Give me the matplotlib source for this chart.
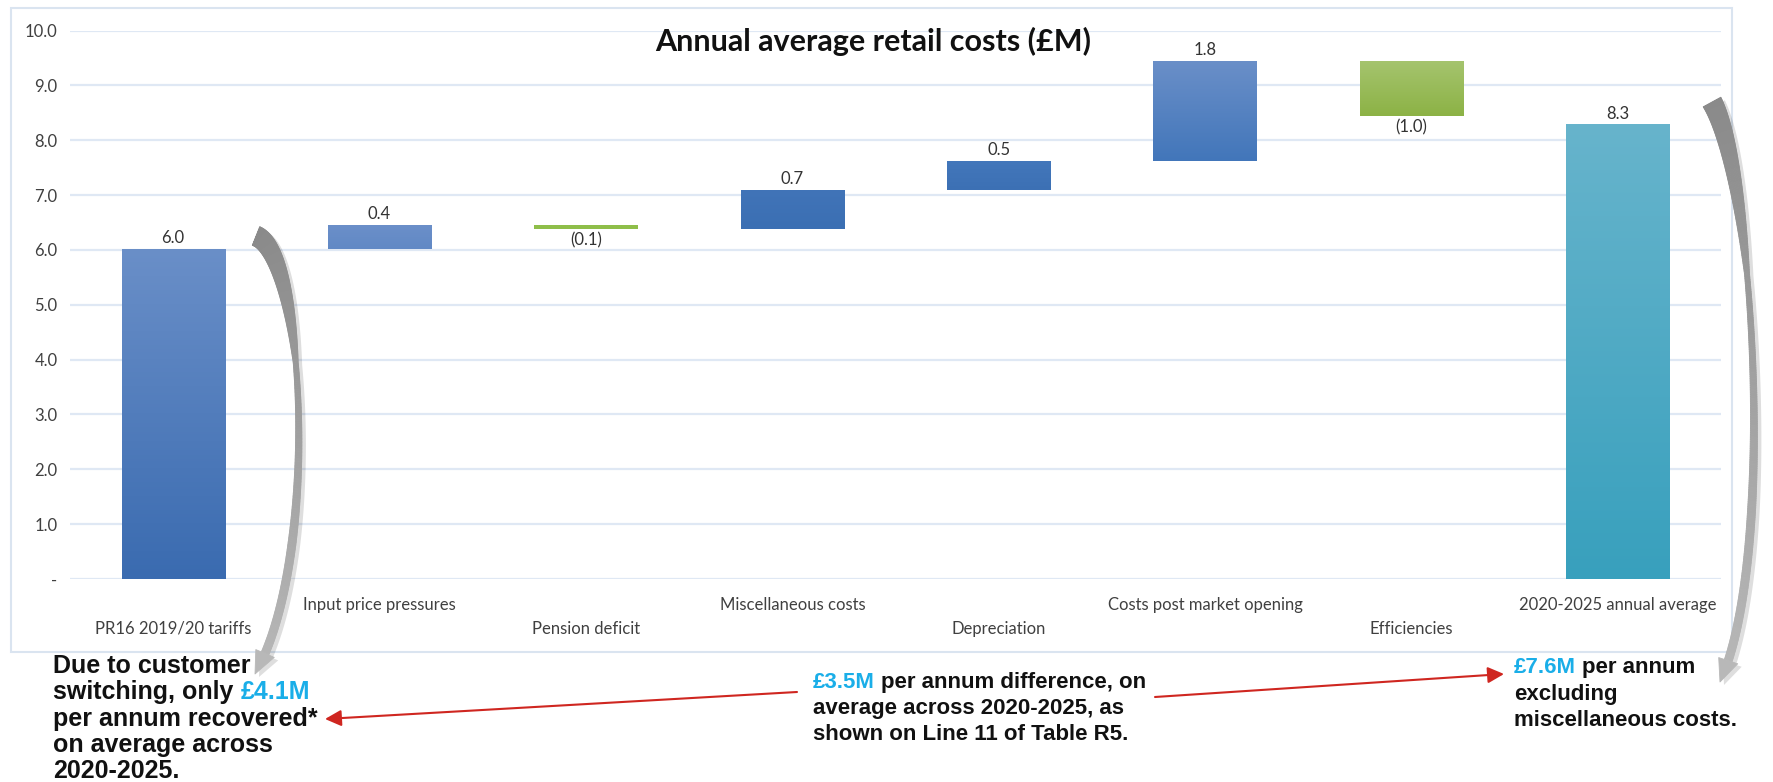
import matplotlib
matplotlib.use("Agg")
import matplotlib.pyplot as plt
import numpy as np
from matplotlib.patches import Rectangle, Polygon
from matplotlib.collections import PolyCollection
from matplotlib.colors import LinearSegmentedColormap, to_rgb

W, H = 1773, 782

categories = ["PR16 2019/20 tariffs", "Input price pressures", "Pension deficit",
              "Miscellaneous costs", "Depreciation", "Costs post market opening",
              "Efficiencies", "2020-2025 annual average"]
steps = [6.02, 0.43, -0.07, 0.72, 0.52, 1.82, -1.00]
total = 8.29
y_ticks = [0, 1, 2, 3, 4, 5, 6, 7, 8, 9, 10]
y_ticklabels = ["-", "1.0", "2.0", "3.0", "4.0", "5.0", "6.0", "7.0", "8.0", "9.0", "10.0"]

bar_colours = [("#6a8fc8", "#3a6bb0"), ("#6b8fc9", "#6189c5"), ("#8fbf4a", "#8fbf4a"),
               ("#4174b8", "#3b6fb3"), ("#4377bb", "#3c70b4"), ("#6a8fc8", "#4276ba"),
               ("#a5c46e", "#8cb245"), ("#67b4cc", "#38a0bd")]

title = "Annual average retail costs (£M)"
blue = "#1aaee8"
black = "#111111"
left_note = [[("Due to customer", black)],
             [("switching, only", black), ("£4.1M", blue)],
             [("per annum recovered*", black)],
             [("on average across", black)],
             [("2020-2025.", black)]]
mid_note = [[("£3.5M", blue), ("per annum difference, on", black)],
            [("average across 2020-2025, as", black)],
            [("shown on Line 11 of Table R5.", black)]]
right_note = [[("£7.6M", blue), ("per annum", black)],
              [("excluding", black)],
              [("miscellaneous costs.", black)]]

plt.rcParams["font.family"] = ["Lato", "DejaVu Sans"]

fig = plt.figure(figsize=(W / 100, H / 100), dpi=100)
ax = fig.add_axes([70 / W, 1 - 579 / H, (1721 - 70) / W, (579 - 30.5) / H])

# waterfall geometry
values = steps + [total]
bottoms, heights = [], []
run = 0.0
for s in steps:
    if s >= 0:
        bottoms.append(run)
        heights.append(s)
    else:
        bottoms.append(run + s)
        heights.append(-s)
    run += s
bottoms.append(0.0)
heights.append(total)

x = np.arange(len(categories))
bars = ax.bar(x, heights, 0.5, bottom=bottoms, color=[c[0] for c in bar_colours], zorder=2)

grad = np.linspace(0, 1, 256).reshape(-1, 1)
for rect, (ctop, cbot) in zip(bars, bar_colours):
    cm = LinearSegmentedColormap.from_list("g", [ctop, cbot])
    x0, y0 = rect.get_x(), rect.get_y()
    im = ax.imshow(grad, cmap=cm, aspect="auto", origin="upper",
                   extent=(x0, x0 + rect.get_width(), y0, y0 + rect.get_height()), zorder=3)
    im.set_clip_path(rect)

for i, v in enumerate(values):
    lab = f"{v:.1f}" if v >= 0 else f"({abs(v):.1f})"
    if v >= 0:
        ax.annotate(lab, (i, bottoms[i] + heights[i]), xytext=(0, 2), textcoords="offset points",
                    ha="center", va="bottom", fontsize=12, color="#333333")
    else:
        ax.annotate(lab, (i, bottoms[i]), xytext=(0, -2), textcoords="offset points",
                    ha="center", va="top", fontsize=12, color="#333333")

ax.set_xlim(-0.5, len(categories) - 0.5)
ax.set_ylim(0, 10)
ax.set_yticks(y_ticks, y_ticklabels)
ax.set_xticks(x[0::2], categories[0::2])
ax.set_xticks(x[1::2], categories[1::2], minor=True)
ax.tick_params(axis="x", which="major", length=0, pad=30, labelsize=12, labelcolor="#404040")
ax.tick_params(axis="x", which="minor", length=0, pad=13, labelsize=12, labelcolor="#404040")
ax.tick_params(axis="y", length=0, pad=9, labelsize=12, labelcolor="#404040")
ax.yaxis.grid(True, color="#dfe8f4", lw=1.6, zorder=0)
ax.set_axisbelow(True)
for sp in ax.spines.values():
    sp.set_visible(False)

fig.text(873 / W, 1 - 41 / H, title, ha="center", va="center", fontsize=22,
         weight="bold", color="#111111")

# chart frame
fig.add_artist(Rectangle((11 / W, 1 - 652 / H), (1732 - 11) / W, (652 - 8) / H,
                         transform=fig.transFigure, fill=False, ec="#dae4f0", lw=1.5))


# gray curved ribbon arrows (pixel coords, y down)
def ribbon(P, w_tail, w_mid, w_pre, head_w, head_len, c0, c1, shadow=(4, 3)):
    P = np.asarray(P, float)
    t = np.linspace(0, 1, 400)[:, None]
    pts = ((1 - t) ** 3 * P[0] + 3 * (1 - t) ** 2 * t * P[1]
           + 3 * (1 - t) * t ** 2 * P[2] + t ** 3 * P[3])
    d = np.r_[0, np.cumsum(np.hypot(*np.diff(pts, axis=0).T))]
    L = d[-1]
    s = d / L
    tang = np.gradient(pts, axis=0)
    tang /= np.hypot(tang[:, 0], tang[:, 1])[:, None]
    nrm = np.c_[-tang[:, 1], tang[:, 0]]
    w = np.interp(s, [0, 0.3, 0.7, 1], [w_tail, w_mid, w_pre, w_pre])
    left = pts + nrm * w[:, None] / 2
    right = pts - nrm * w[:, None] / 2
    idx = np.where(d <= L - head_len)[0]
    k = idx[-1]
    head = np.array([pts[k] + nrm[k] * head_w / 2, pts[-1], pts[k] - nrm[k] * head_w / 2])
    outline = np.vstack([left[idx], head, right[idx][::-1]])

    def conv(a):
        a = np.asarray(a, float)
        return np.c_[a[:, 0] / W, 1 - a[:, 1] / H]

    sh = outline + np.array(shadow)
    fig.add_artist(Polygon(conv(sh), closed=True, transform=fig.transFigure,
                           fc="#000000", alpha=0.13, lw=0))
    quads, cols = [], []
    a0, a1 = np.array(to_rgb(c0)), np.array(to_rgb(c1))
    for i in idx[:-1]:
        quads.append(conv([left[i], left[i + 1], right[i + 1], right[i]]))
        cols.append(a0 + (a1 - a0) * s[i])
    quads.append(conv(head))
    cols.append(a1)
    pc = PolyCollection(quads, facecolors=cols, edgecolors=cols, linewidths=0.6,
                        transform=fig.transFigure)
    fig.add_artist(pc)


ribbon([(256, 236), (306, 255), (320, 560), (255, 674)], 20, 5, 8, 20, 22, "#8a8a8a", "#b8b8b8")
ribbon([(1712, 102), (1755, 180), (1776, 560), (1720, 682)], 20, 5, 8, 20, 22, "#8a8a8a", "#b8b8b8")

# red arrows
red = "#cf2620"
for (xs, ys), (xe, ye) in [((797, 692), (325, 719)), ((1155, 697), (1504, 674))]:
    ax.annotate("", xy=(xe, H - ye), xycoords="figure pixels", xytext=(xs, H - ys),
                textcoords="figure pixels", annotation_clip=False,
                arrowprops=dict(arrowstyle="-|>,head_length=0.7,head_width=0.35",
                                color=red, lw=1.5, shrinkA=0, shrinkB=0, mutation_scale=14))


# notes with coloured runs
def rich(xp, yp, parts, size):
    font = dict(fontsize=size, weight="bold", family=["Liberation Sans", "DejaVu Sans"])
    txt, col = parts[0]
    t = fig.text(xp / W, 1 - yp / H, txt, color=col, va="baseline", ha="left", **font)
    for txt, col in parts[1:]:
        t = ax.annotate(txt, xy=(1, 0), xycoords=t, xytext=(0.278 * size, 0),
                        textcoords="offset points", va="bottom", ha="left",
                        color=col, annotation_clip=False, **font)


for lines, xp, ys, size in [(left_note, 53, [673, 699.3, 725.6, 751.9, 778.2], 18),
                            (mid_note, 813, [688, 714, 740], 16),
                            (right_note, 1514, [673, 700, 726], 16)]:
    for parts, yp in zip(lines, ys):
        rich(xp, yp, parts, size)

fig.savefig("out.png", dpi=100)
